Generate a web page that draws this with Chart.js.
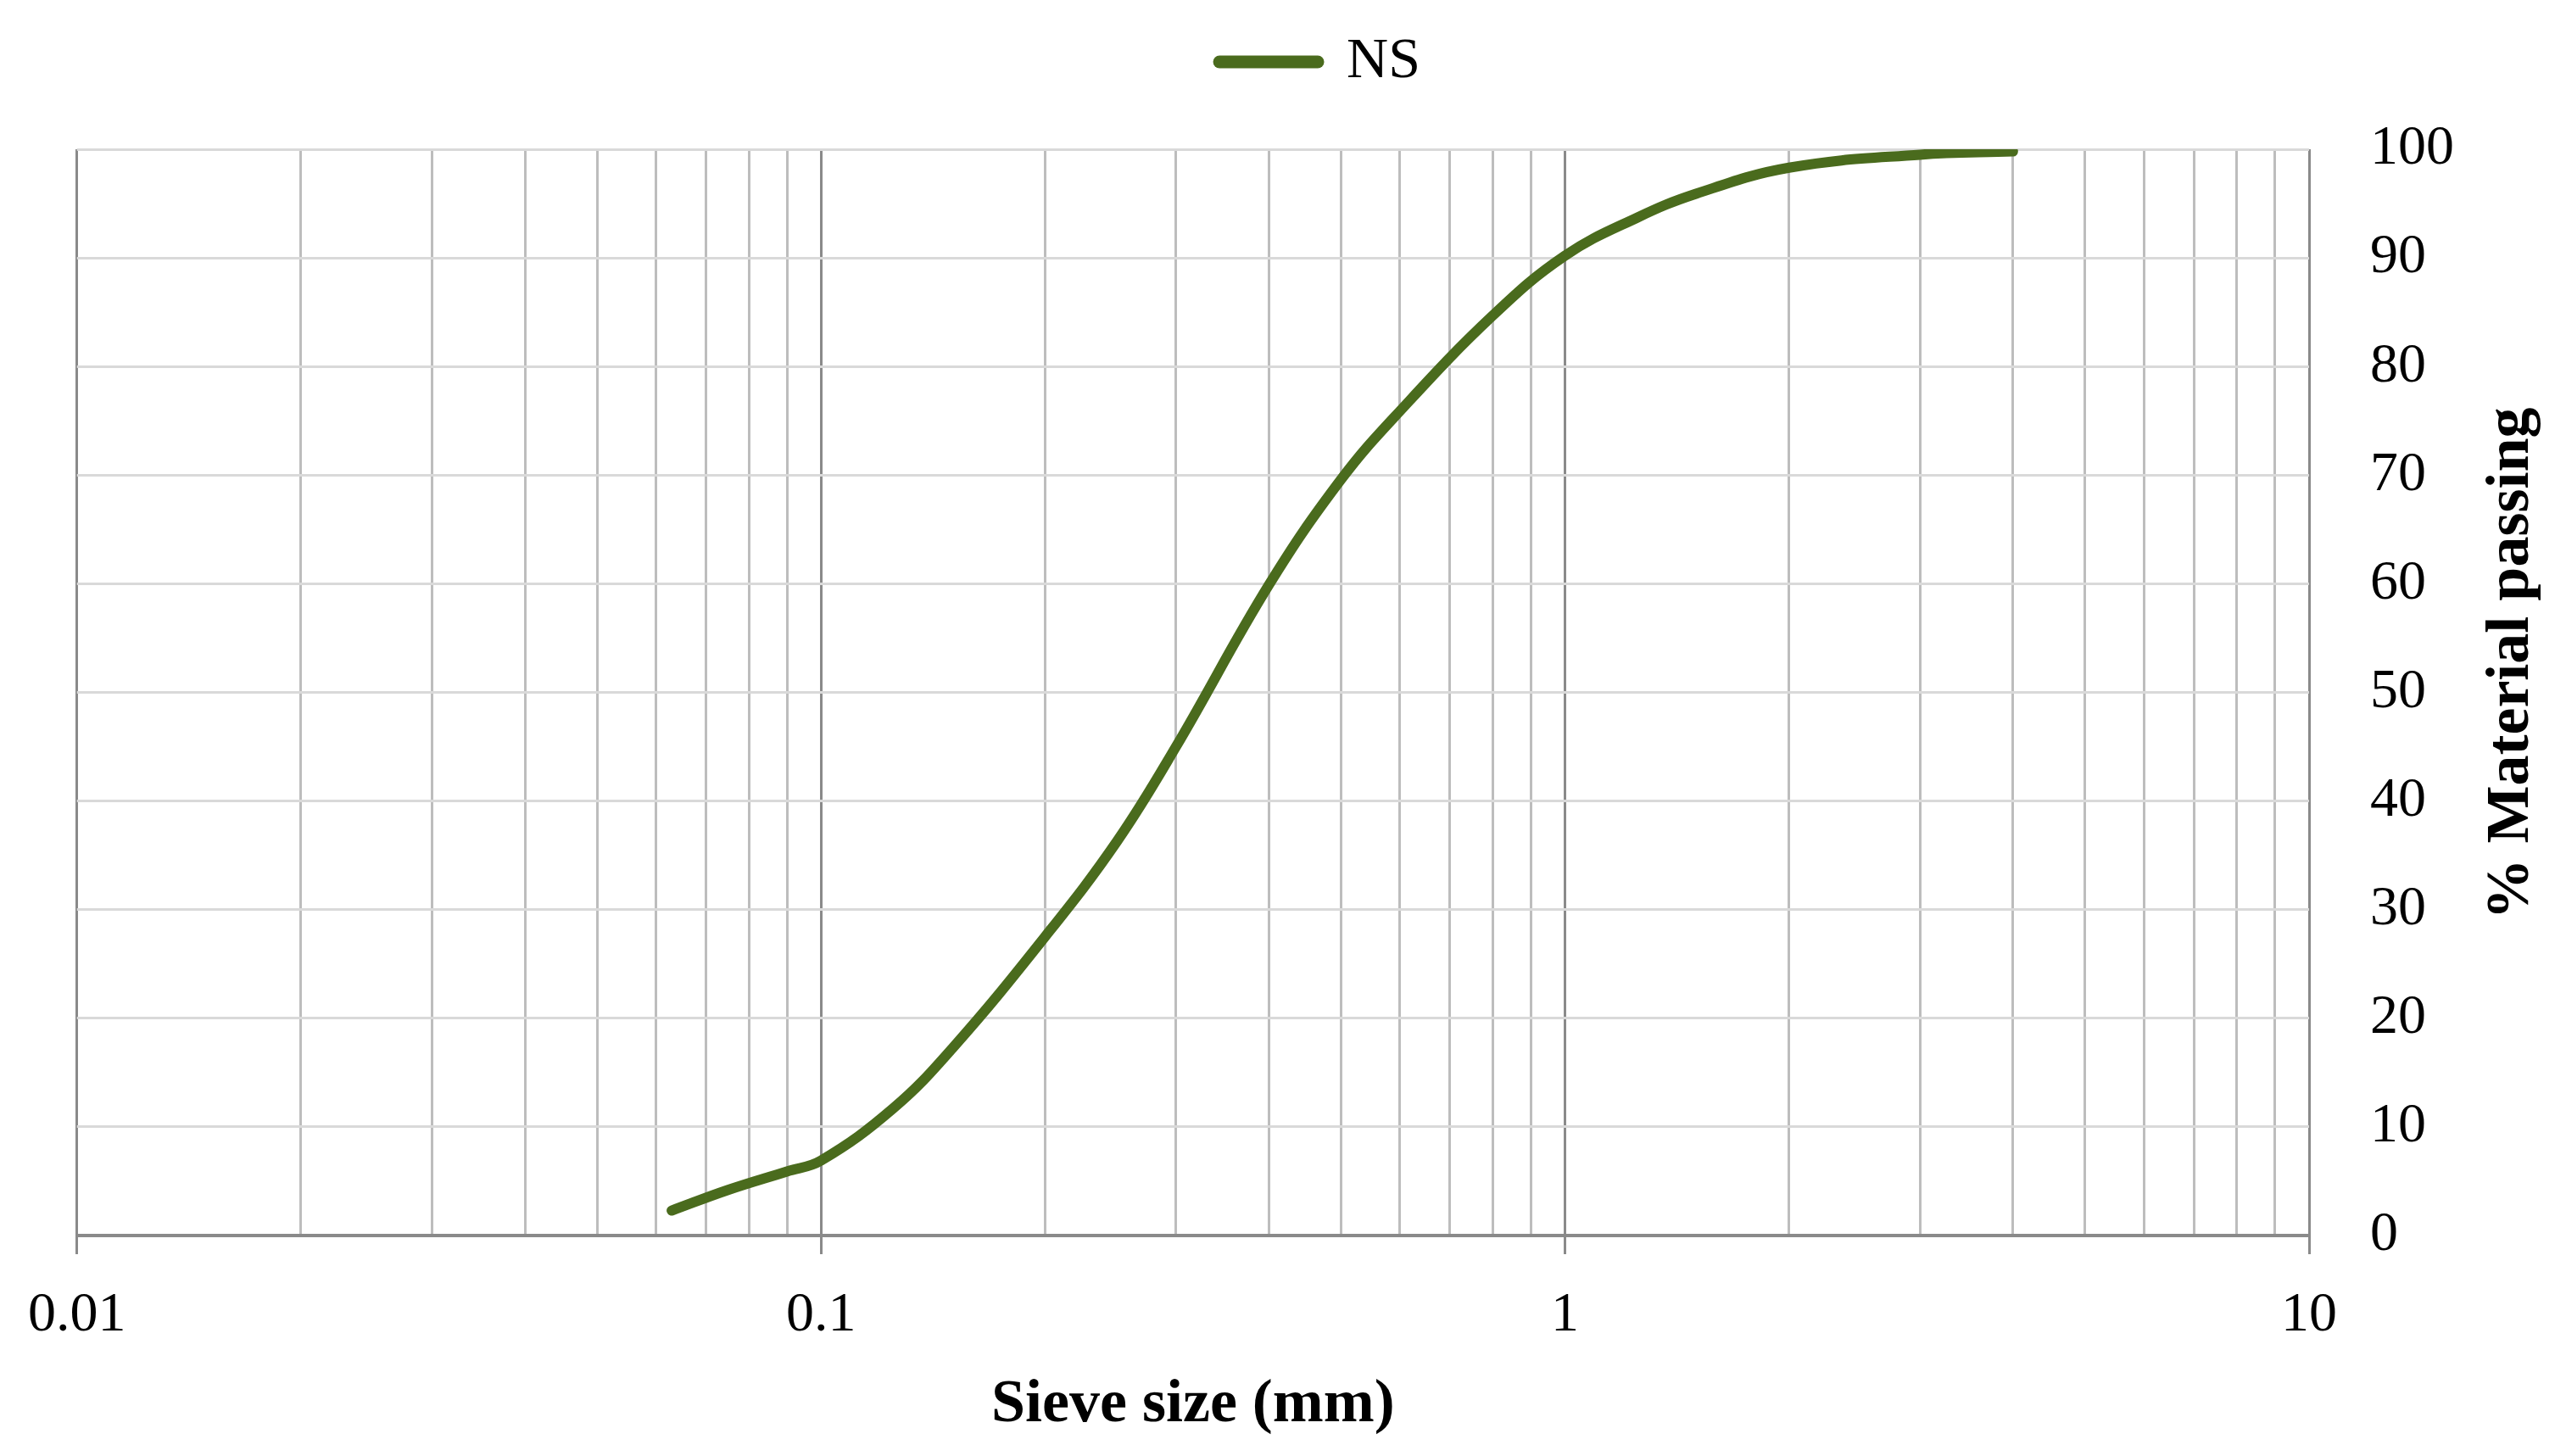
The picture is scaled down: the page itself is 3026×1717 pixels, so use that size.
<!doctype html>
<html lang="en">
<head>
<meta charset="utf-8">
<title>Sieve curve NS</title>
<script src="https://cdn.jsdelivr.net/npm/chart.js@4.4.1/dist/chart.umd.min.js"></script>
<style>
  html, body { margin: 0; padding: 0; background: #fff; }
  canvas { display: block; }
</style>
</head>
<body>
<canvas id="chart" width="3026" height="1717"></canvas>
<script>
// data
var sieveSizes = [0.063, 0.075, 0.09, 0.1, 0.125, 0.15, 0.2, 0.25, 0.3, 0.4, 0.5, 0.6, 0.8, 1, 1.25, 1.5, 2, 3, 4];
var passingNS  = [2.3, 4.2, 5.9, 6.9, 11.7, 17.2, 27.5, 36.3, 45.0, 59.9, 69.6, 75.9, 84.7, 90.2, 93.7, 95.9, 98.3, 99.5, 99.8];

var xDecades = [0.01, 0.1, 1, 10];
var xTickLabels = ["0.01", "0.1", "1", "10"];
var yTicks = [0, 10, 20, 30, 40, 50, 60, 70, 80, 90, 100];

var serif = '"Liberation Serif", "DejaVu Serif", serif';
var green = '#4a6b1d';
var axisGrey = '#8a8a8a';
var minorGrey = '#bdbdbd';
var hGrey = '#d9d9d9';

// grid positions: 1..9 of every decade, up to 10
var xGrid = [];
for (var d = 0; d < xDecades.length - 1; d++) {
  for (var k = 1; k <= 9; k++) xGrid.push(xDecades[d] * k);
}
xGrid.push(xDecades[xDecades.length - 1]);

function decadeIndex(v) {
  if (v === undefined) return -1;
  return xDecades.findIndex(function (dv) { return Math.abs(dv - v) < dv * 1e-6; });
}

var yTitlePlugin = {
  id: 'yTitleLeftRotated',
  afterDraw: function (chart) {
    var ctx = chart.ctx, a = chart.chartArea;
    ctx.save();
    ctx.translate(chart.width - 64, (a.top + a.bottom) / 2 - 34);
    ctx.rotate(-Math.PI / 2);
    ctx.font = 'bold 72px ' + serif;
    ctx.fillStyle = '#000';
    ctx.textAlign = 'center';
    ctx.textBaseline = 'middle';
    ctx.fillText('% Material passing', 0, 0);
    ctx.restore();
  }
};

Chart.defaults.color = '#000';

var ctx = document.getElementById('chart').getContext('2d');
var chart = new Chart(ctx, {
  type: 'line',
  data: {
    datasets: [{
      label: 'NS',
      xAxisID: 'x',
      yAxisID: 'y',
      data: sieveSizes.map(function (s, i) { return { x: s, y: passingNS[i] }; }),
      borderColor: green,
      backgroundColor: green,
      borderWidth: 12,
      borderCapStyle: 'round',
      borderJoinStyle: 'round',
      pointRadius: 0,
      pointHoverRadius: 0,
      tension: 0.4,
      fill: false
    }]
  },
  options: {
    responsive: false,
    animation: false,
    devicePixelRatio: 1,
    layout: { padding: { left: 87, right: 0, top: 29, bottom: 0 } },
    plugins: {
      legend: {
        position: 'top',
        labels: {
          font: { family: serif, size: 68 },
          usePointStyle: true,
          pointStyle: 'line',
          pointStyleWidth: 116,
          padding: 10,
          generateLabels: function (ch) {
            return Chart.defaults.plugins.legend.labels.generateLabels(ch).map(function (l) {
              l.lineWidth = 15;
              l.lineCap = 'round';
              return l;
            });
          }
        }
      },
      tooltip: { enabled: false }
    },
    scales: {
      x: {
        type: 'logarithmic',
        position: 'bottom',
        min: 0.01,
        max: 10,
        afterBuildTicks: function (s) {
          s.ticks = xGrid.map(function (v) { return { value: v, major: decadeIndex(v) >= 0 }; });
        },
        afterFit: function (s) { s.height = 260; },
        grid: {
          color: function (c) { return decadeIndex(c.tick && c.tick.value) >= 0 ? axisGrey : minorGrey; },
          lineWidth: 3,
          drawTicks: true,
          tickLength: 22,
          tickWidth: 3,
          tickColor: function (c) { return decadeIndex(c.tick && c.tick.value) >= 0 ? axisGrey : 'rgba(0,0,0,0)'; }
        },
        border: { display: true, color: axisGrey, width: 4 },
        ticks: {
          autoSkip: false,
          maxRotation: 0,
          minRotation: 0,
          padding: 33,
          font: { family: serif, size: 66 },
          callback: function (v) {
            var i = decadeIndex(v);
            return i >= 0 ? xTickLabels[i] : '';
          }
        },
        title: {
          display: true,
          text: 'Sieve size (mm)',
          font: { family: serif, size: 72, weight: 'bold' },
          padding: { top: 0, bottom: 16 }
        }
      },
      // empty top band that keeps the legend clear of the plot
      gap: {
        axis: 'x',
        type: 'linear',
        position: 'top',
        display: true,
        grid: { display: false },
        border: { display: false },
        ticks: { display: false },
        afterFit: function (s) { s.height = 59; }
      },
      y: {
        type: 'linear',
        position: 'right',
        min: 0,
        max: 100,
        afterBuildTicks: function (s) {
          s.ticks = yTicks.map(function (v) { return { value: v }; });
        },
        afterFit: function (s) { s.width = 303; },
        grid: {
          color: function (c) { return c.tick && c.tick.value === 0 ? axisGrey : hGrey; },
          lineWidth: 3,
          drawTicks: false
        },
        border: { display: false },
        ticks: {
          padding: 72,
          font: { family: serif, size: 66 }
        },
        title: { display: false }
      }
    }
  },
  plugins: [yTitlePlugin]
});
</script>
</body>
</html>
